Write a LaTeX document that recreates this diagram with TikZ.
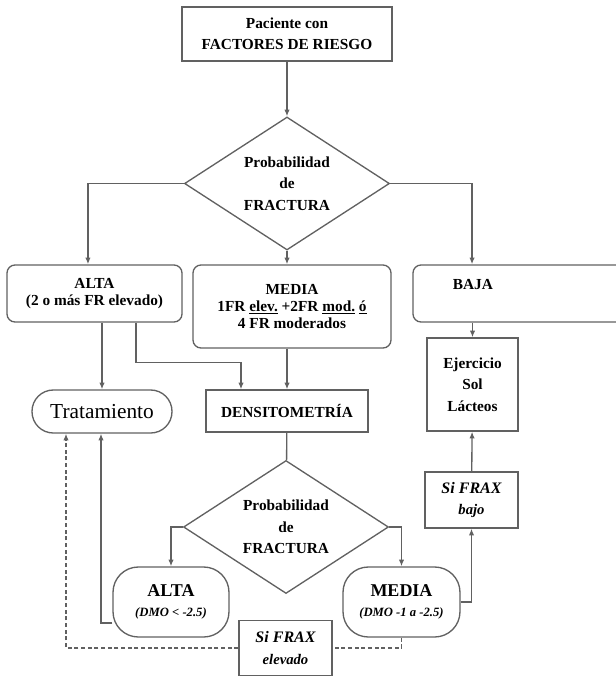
\documentclass[tikz,border=0pt]{standalone}
\usepackage{fontspec}
\setmainfont{Liberation Serif}
\usetikzlibrary{positioning,shapes.geometric,arrows.meta}
\tikzset{
	box/.style={draw=black!62,line width=1pt,rectangle,align=center,inner sep=2pt,
		font=\fontsize{11.5}{13}\selectfont\bfseries},
	loose/.style={font=\fontsize{11.5}{16}\selectfont\bfseries},
	rbox/.style={box,rounded corners=6pt},
	pill/.style={box,rounded corners=16pt},
	test/.style={draw=black!62,line width=1pt,diamond,aspect=1.54,align=center,inner sep=0pt,
		minimum width=153.75pt,minimum height=99.75pt,loose},
	frax/.style={box,font=\fontsize{12}{16}\selectfont\bfseries\itshape},
	line/.style={draw=black!62,line width=1pt},
	arr/.style={line,-{Latex[length=5pt,width=4pt]}}
}
\begin{document}
\begin{tikzpicture}[x=0.75pt,y=-0.75pt]
\useasboundingbox (0,0) rectangle (616,676);

\node[box,loose,minimum width=157.5pt,minimum height=40.5pt] (paciente) at (287,34) {Paciente con\\FACTORES DE RIESGO};
\node[test] (prob1) at (287,183.5) {Probabilidad\\de\\FRACTURA};

\node[rbox,minimum width=131.25pt,minimum height=42.75pt] (alta) at (94.5,293.5) {ALTA\\(2 o más FR elevado)};
\node[rbox,minimum width=148.5pt,minimum height=62.25pt] (media) at (292,306.5) {MEDIA\\1FR \underline{elev.} +2FR \underline{mod.} \underline{ó}\\4 FR moderados};
\node[rbox,minimum width=162.75pt,minimum height=42.75pt,
	label={[xshift=-36.4pt,yshift=6.4pt,font=\fontsize{11.5}{13}\selectfont\bfseries]center:BAJA}] (baja) at (521.5,293.5) {};

\node[pill,font=\fontsize{16}{18}\selectfont,minimum width=105pt,minimum height=32.25pt] (trat) at (102,411.5) {Tratamiento};
\node[box,minimum width=121.5pt,minimum height=31.5pt] (dens) at (287,411) {DENSITOMETRÍA};
\node[box,loose,minimum width=68.25pt,minimum height=69.75pt] (ejer) at (472.5,384.5) {Ejercicio\\Sol\\Lácteos};

\node[test] (prob2) at (286,527) {Probabilidad\\de\\FRACTURA};
\node[pill,rounded corners=19pt,font=\fontsize{13.5}{15}\selectfont\bfseries,minimum width=87pt,minimum height=52.5pt] (alta2) at (171,602) {ALTA\\{\fontsize{9.5}{11}\selectfont\itshape (DMO < -2.5)}};
\node[pill,rounded corners=19pt,font=\fontsize{13.5}{15}\selectfont\bfseries,minimum width=87.75pt,minimum height=52.5pt] (media2) at (401.5,602) {MEDIA\\{\fontsize{9.5}{11}\selectfont\itshape (DMO -1 a -2.5)}};

\node[frax,minimum width=69.75pt,minimum height=42pt] (fraxb) at (471.5,500) {Si FRAX\\{\fontsize{11}{13}\selectfont bajo}};
\node[frax,minimum width=69.75pt,minimum height=41.25pt] (fraxe) at (285.5,648) {Si FRAX\\{\fontsize{11}{13}\selectfont elevado}};

% first decision
\draw[arr] (paciente) -- (prob1);
\draw[arr] (prob1.west) -| ([xshift=-4.9pt]alta.north);
\draw[arr] (prob1.east) -| ([xshift=-37.1pt]baja.north);
\draw[arr] (prob1.south) -- (prob1.south |- media.north);
\draw[arr] (alta.south -| trat.north) -- (trat.north);
\draw[arr] ([xshift=31.1pt]alta.south) |- ([xshift=-34.5pt,yshift=20.25pt]dens.north) -- ([xshift=-34.5pt]dens.north);
\draw[arr] (media.south -| dens.north) -- (dens.north);
\draw[arr] (baja.south -| ejer.north) -- (ejer.north);

% second decision
\draw[line] (dens) -- (prob2);
\draw[arr] (prob2.west) -| (alta2.north);
\draw[arr] (prob2.east) -| (media2.north);
\draw[arr] ([yshift=-15.75pt]alta2.west) -| ([xshift=-0.75pt]trat.south);
\draw[arr] (media2.east) -| (fraxb.south);
\draw[arr] (fraxb) -- (ejer);
\draw[line,dash pattern=on 3pt off 2pt] (media2.south) |- (fraxe.east);
\draw[arr,dash pattern=on 3pt off 2pt] (fraxe.west) -| ([xshift=-27pt]trat.south);

\end{tikzpicture}
\end{document}
